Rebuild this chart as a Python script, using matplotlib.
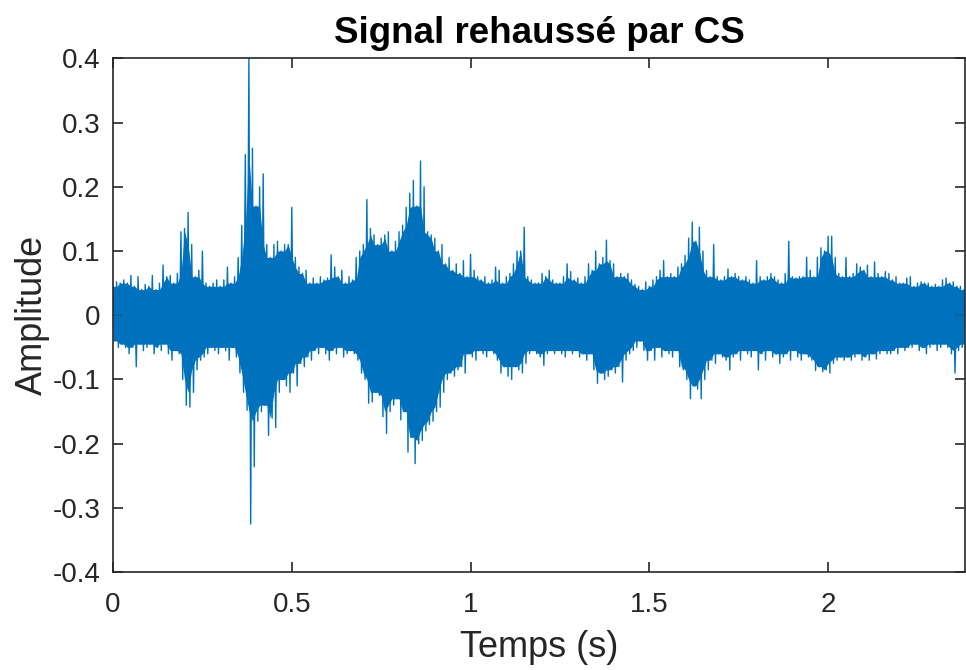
import matplotlib.pyplot as plt
import numpy as np

# envelope of the enhanced signal, read every 10 ms (t = 0.00 ... 2.38 s)
step = 0.01
upper = [
    0.045, 0.052, 0.05, 0.055, 0.05, 0.062, 0.045, 0.06, 0.04, 0.048,
    0.045, 0.062, 0.04, 0.05, 0.078, 0.06, 0.062, 0.05, 0.065, 0.13,
    0.135, 0.16, 0.11, 0.06, 0.07, 0.1, 0.05, 0.045, 0.05, 0.055,
    0.045, 0.055, 0.075, 0.05, 0.06, 0.09, 0.14, 0.25, 0.40, 0.26,
    0.17, 0.2, 0.22, 0.11, 0.09, 0.11, 0.115, 0.1, 0.11, 0.11,
    0.168, 0.09, 0.075, 0.065, 0.07, 0.05, 0.058, 0.05, 0.06, 0.055,
    0.058, 0.094, 0.075, 0.06, 0.07, 0.05, 0.06, 0.055, 0.09, 0.1,
    0.11, 0.18, 0.135, 0.125, 0.11, 0.12, 0.125, 0.13, 0.1, 0.115,
    0.13, 0.14, 0.168, 0.19, 0.21, 0.17, 0.24, 0.2, 0.13, 0.125,
    0.12, 0.1, 0.11, 0.08, 0.09, 0.07, 0.08, 0.065, 0.085, 0.06,
    0.095, 0.07, 0.06, 0.055, 0.06, 0.05, 0.055, 0.075, 0.07, 0.05,
    0.06, 0.065, 0.08, 0.1, 0.1, 0.137, 0.06, 0.055, 0.05, 0.05,
    0.065, 0.06, 0.07, 0.055, 0.05, 0.05, 0.06, 0.08, 0.068, 0.055,
    0.058, 0.05, 0.06, 0.08, 0.07, 0.1, 0.08, 0.09, 0.117, 0.085,
    0.08, 0.06, 0.065, 0.06, 0.065, 0.055, 0.048, 0.045, 0.04, 0.052,
    0.045, 0.055, 0.06, 0.07, 0.085, 0.06, 0.065, 0.06, 0.075, 0.08,
    0.093, 0.12, 0.145, 0.115, 0.137, 0.1, 0.07, 0.06, 0.11, 0.06,
    0.055, 0.06, 0.072, 0.06, 0.065, 0.06, 0.055, 0.06, 0.055, 0.05,
    0.085, 0.06, 0.055, 0.06, 0.065, 0.06, 0.055, 0.05, 0.065, 0.115,
    0.06, 0.058, 0.06, 0.06, 0.09, 0.07, 0.06, 0.09, 0.105, 0.1,
    0.123, 0.123, 0.09, 0.065, 0.06, 0.09, 0.06, 0.065, 0.08, 0.075,
    0.07, 0.078, 0.06, 0.083, 0.065, 0.06, 0.068, 0.065, 0.055, 0.06,
    0.05, 0.05, 0.058, 0.06, 0.045, 0.05, 0.052, 0.05, 0.05, 0.045,
    0.048, 0.045, 0.055, 0.058, 0.05, 0.052, 0.045, 0.045, 0.04,
]
lower = [
    -0.04, -0.05, -0.045, -0.05, -0.06, -0.05, -0.08, -0.045, -0.055, -0.05,
    -0.045, -0.06, -0.05, -0.055, -0.045, -0.06, -0.07, -0.055, -0.06, -0.1,
    -0.14, -0.143, -0.12, -0.085, -0.07, -0.065, -0.06, -0.05, -0.055, -0.06,
    -0.05, -0.055, -0.07, -0.05, -0.065, -0.09, -0.12, -0.148, -0.325, -0.236,
    -0.165, -0.15, -0.14, -0.187, -0.16, -0.175, -0.12, -0.1, -0.11, -0.12,
    -0.09, -0.11, -0.075, -0.08, -0.065, -0.07, -0.055, -0.06, -0.05, -0.06,
    -0.07, -0.055, -0.06, -0.05, -0.065, -0.06, -0.055, -0.06, -0.07, -0.09,
    -0.1, -0.137, -0.135, -0.12, -0.125, -0.158, -0.184, -0.15, -0.14, -0.13,
    -0.163, -0.15, -0.213, -0.19, -0.231, -0.2, -0.195, -0.18, -0.17, -0.165,
    -0.15, -0.143, -0.12, -0.1, -0.09, -0.095, -0.085, -0.08, -0.09, -0.06,
    -0.065, -0.07, -0.055, -0.06, -0.065, -0.055, -0.06, -0.07, -0.09, -0.08,
    -0.095, -0.1, -0.08, -0.085, -0.09, -0.075, -0.06, -0.055, -0.06, -0.065,
    -0.078, -0.06, -0.055, -0.06, -0.055, -0.06, -0.065, -0.055, -0.06, -0.055,
    -0.065, -0.06, -0.07, -0.06, -0.085, -0.106, -0.09, -0.1, -0.095, -0.085,
    -0.09, -0.08, -0.104, -0.07, -0.06, -0.055, -0.05, -0.04, -0.055, -0.07,
    -0.055, -0.07, -0.05, -0.065, -0.055, -0.06, -0.065, -0.055, -0.08, -0.085,
    -0.1, -0.13, -0.11, -0.115, -0.13, -0.1, -0.085, -0.07, -0.075, -0.06,
    -0.065, -0.07, -0.085, -0.065, -0.06, -0.07, -0.055, -0.06, -0.065, -0.055,
    -0.085, -0.06, -0.07, -0.055, -0.065, -0.06, -0.075, -0.065, -0.06, -0.07,
    -0.055, -0.065, -0.07, -0.06, -0.065, -0.07, -0.086, -0.08, -0.088, -0.085,
    -0.09, -0.075, -0.07, -0.065, -0.07, -0.065, -0.07, -0.065, -0.06, -0.07,
    -0.065, -0.07, -0.06, -0.068, -0.06, -0.055, -0.06, -0.06, -0.055, -0.06,
    -0.05, -0.055, -0.05, -0.05, -0.045, -0.055, -0.05, -0.06, -0.05, -0.045,
    -0.055, -0.05, -0.045, -0.05, -0.06, -0.09, -0.055, -0.05, -0.045,
]

t_end = 2.383
blue = "#0072BD"
dark = "#262626"

t = np.arange(len(upper)) * step
up = np.array(upper)
lo = np.array(lower)

# zigzag max -> min so the trace reads like a sampled waveform
x = np.empty(2 * len(t))
y = np.empty(2 * len(t))
x[0::2] = t
x[1::2] = t + step / 2
y[0::2] = up
y[1::2] = lo

# region every neighbouring sample covers -> solid body of the trace
pad_up = np.concatenate([[up[0]], up, [up[-1]]])
pad_lo = np.concatenate([[lo[0]], lo, [lo[-1]]])
body_up = np.minimum(np.minimum(pad_up[:-2], pad_up[1:-1]), pad_up[2:])
body_lo = np.maximum(np.maximum(pad_lo[:-2], pad_lo[1:-1]), pad_lo[2:])

plt.rcParams["font.family"] = ["Liberation Sans", "DejaVu Sans"]

fig = plt.figure(figsize=(9.66, 6.70), dpi=100)
ax = fig.add_axes([0.117, 0.146, 0.882, 0.767])

ax.fill_between(t, body_lo, body_up, color=blue, lw=0)
ax.plot(x, y, "-", color=blue, lw=1.0)

ax.set_xlim(0, t_end)
ax.set_ylim(-0.4, 0.4)
ax.set_xticks([0, 0.5, 1, 1.5, 2])
ax.set_xticklabels(["0", "0.5", "1", "1.5", "2"])
ax.set_yticks(np.arange(-0.4, 0.41, 0.1))
ax.set_yticklabels(["-0.4", "-0.3", "-0.2", "-0.1", "0", "0.1", "0.2", "0.3", "0.4"])

ax.tick_params(direction="in", length=7, width=1.2, colors=dark, labelsize=20,
               top=True, right=True)
ax.tick_params(axis="x", pad=14)
ax.tick_params(axis="y", pad=9)
for s in ax.spines.values():
    s.set_color(dark)
    s.set_linewidth(1.2)

ax.set_title("Signal rehaussé par CS", fontsize=26.5, fontweight="bold", pad=11)
ax.set_xlabel("Temps (s)", fontsize=26, color=dark, labelpad=9)
ax.set_ylabel("Amplitude", fontsize=26, color=dark, labelpad=2)

fig.savefig("out.png", dpi=100)
